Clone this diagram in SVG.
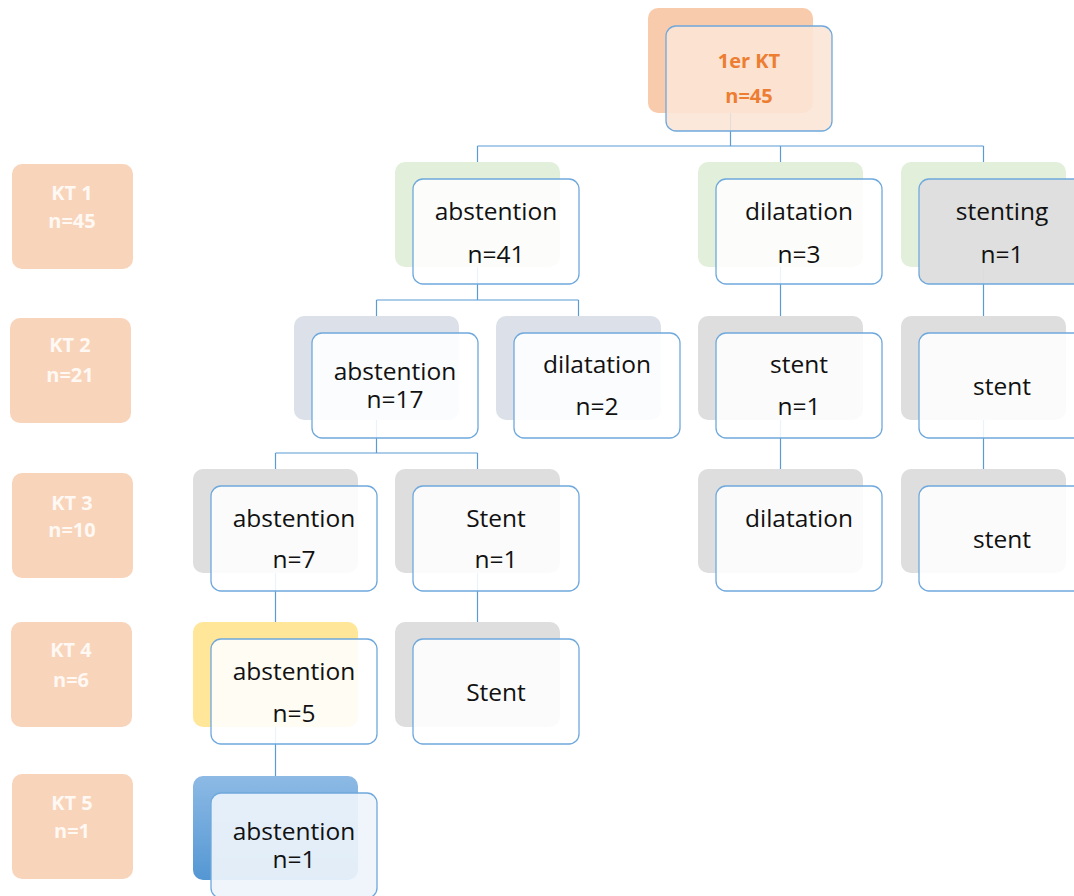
<svg xmlns="http://www.w3.org/2000/svg" width="1074" height="896" viewBox="0 0 1074 896">
<defs>
<linearGradient id="gBlue" x1="0" y1="0" x2="0" y2="1">
<stop offset="0" stop-color="#8DBAE5"/>
<stop offset="1" stop-color="#5497D3"/>
</linearGradient>
<style>
.lab{fill:#F8D4BB}
.labt{font-family:"Open Sans",sans-serif;font-weight:bold;font-size:20px;fill:#FFF8F3;text-anchor:middle}
.back{stroke:none}
.green{fill:#E2EFDA}
.bluegray{fill:#DCE1E9}
.gray{fill:#DEDEDE}
.yellow{fill:#FFE699}
.front{fill:#FFFFFF;fill-opacity:0.88;stroke:#6FA8DC;stroke-width:1.3}
.t{font-family:"Open Sans",sans-serif;font-size:24.5px;fill:#111111;text-anchor:middle}
.tt{font-family:"Open Sans",sans-serif;font-weight:bold;font-size:20px;fill:#ED7D31;text-anchor:middle}
.conn{fill:none;stroke:#5B9BD5;stroke-width:1.2}
</style>
</defs>
<rect width="1074" height="896" fill="#FFFFFF"/>

<g id="level-labels">
<g id="kt1"><rect class="lab" x="12" y="164" width="121" height="105" rx="10"/><text class="labt" x="72" y="200">KT 1</text><text class="labt" x="72" y="228">n=45</text></g>
<g id="kt2"><rect class="lab" x="10" y="318" width="121" height="105" rx="10"/><text class="labt" x="70" y="352">KT 2</text><text class="labt" x="70" y="382">n=21</text></g>
<g id="kt3"><rect class="lab" x="12" y="473" width="121" height="105" rx="10"/><text class="labt" x="72" y="510">KT 3</text><text class="labt" x="72" y="537">n=10</text></g>
<g id="kt4"><rect class="lab" x="11" y="622" width="121" height="105" rx="10"/><text class="labt" x="71" y="657">KT 4</text><text class="labt" x="71" y="687">n=6</text></g>
<g id="kt5"><rect class="lab" x="12" y="774" width="121" height="105" rx="10"/><text class="labt" x="72" y="810">KT 5</text><text class="labt" x="72" y="838">n=1</text></g>
</g>

<g id="connectors">
<path class="conn" d="M730.5,113 V146 M477.5,146 H983.5 M477.5,146 V162 M780.5,146 V162 M983.5,146 V162"/>
<path class="conn" d="M477.5,267 V300 M376.5,300 H578.5 M376.5,300 V316 M578.5,300 V316"/>
<path class="conn" d="M780.5,267 V316 M983.5,267 V316"/>
<path class="conn" d="M376.5,419 V453 M275.5,453 H477.5 M275.5,453 V469 M477.5,453 V469"/>
<path class="conn" d="M780.5,419 V469 M983.5,419 V469"/>
<path class="conn" d="M275.5,573 V622 M477.5,573 V622 M275.5,727 V776"/>
</g>

<g id="root">
<rect class="back" x="648" y="8" width="165" height="105" rx="10" fill="#F8CBAD"/>
<rect x="666" y="26" width="166" height="105" rx="10" fill="#FBE5D6" fill-opacity="0.88" stroke="#6FA8DC" stroke-width="1.3"/>
<text class="tt" x="749" y="68">1er KT</text>
<text class="tt" x="749" y="103">n=45</text>
</g>

<g id="n1a">
<rect class="back green" x="395" y="162" width="165" height="105" rx="10"/>
<rect class="front" x="413" y="179" width="166" height="105" rx="10"/>
<text class="t" x="496" y="220">abstention</text><text class="t" x="496" y="263">n=41</text>
</g>
<g id="n1b">
<rect class="back green" x="698" y="162" width="165" height="105" rx="10"/>
<rect class="front" x="716" y="179" width="166" height="105" rx="10"/>
<text class="t" x="799" y="220">dilatation</text><text class="t" x="799" y="263">n=3</text>
</g>
<g id="n1c">
<rect class="back green" x="901" y="162" width="165" height="105" rx="10"/>
<rect x="919" y="179" width="166" height="105" rx="10" fill="#DEDEDE" fill-opacity="0.97" stroke="#6FA8DC" stroke-width="1.3"/>
<text class="t" x="1002" y="220">stenting</text><text class="t" x="1002" y="263">n=1</text>
</g>

<g id="n2a">
<rect class="back bluegray" x="294" y="316" width="165" height="104" rx="10"/>
<rect class="front" x="312" y="333" width="166" height="105" rx="10"/>
<text class="t" x="395" y="380">abstention</text><text class="t" x="395" y="408">n=17</text>
</g>
<g id="n2b">
<rect class="back bluegray" x="496" y="316" width="165" height="104" rx="10"/>
<rect class="front" x="514" y="333" width="166" height="105" rx="10"/>
<text class="t" x="597" y="373">dilatation</text><text class="t" x="597" y="415">n=2</text>
</g>
<g id="n2c">
<rect class="back gray" x="698" y="316" width="165" height="104" rx="10"/>
<rect class="front" x="716" y="333" width="166" height="105" rx="10"/>
<text class="t" x="799" y="373">stent</text><text class="t" x="799" y="415">n=1</text>
</g>
<g id="n2d">
<rect class="back gray" x="901" y="316" width="165" height="104" rx="10"/>
<rect class="front" x="919" y="333" width="166" height="105" rx="10"/>
<text class="t" x="1002" y="395">stent</text>
</g>

<g id="n3a">
<rect class="back gray" x="193" y="469" width="165" height="104" rx="10"/>
<rect class="front" x="211" y="486" width="166" height="105" rx="10"/>
<text class="t" x="294" y="527">abstention</text><text class="t" x="294" y="568">n=7</text>
</g>
<g id="n3b">
<rect class="back gray" x="395" y="469" width="165" height="104" rx="10"/>
<rect class="front" x="413" y="486" width="166" height="105" rx="10"/>
<text class="t" x="496" y="527">Stent</text><text class="t" x="496" y="568">n=1</text>
</g>
<g id="n3c">
<rect class="back gray" x="698" y="469" width="165" height="104" rx="10"/>
<rect class="front" x="716" y="486" width="166" height="105" rx="10"/>
<text class="t" x="799" y="527">dilatation</text>
</g>
<g id="n3d">
<rect class="back gray" x="901" y="469" width="165" height="104" rx="10"/>
<rect class="front" x="919" y="486" width="166" height="105" rx="10"/>
<text class="t" x="1002" y="548">stent</text>
</g>

<g id="n4a">
<rect class="back yellow" x="193" y="622" width="165" height="105" rx="10"/>
<rect class="front" x="211" y="639" width="166" height="105" rx="10"/>
<text class="t" x="294" y="680">abstention</text><text class="t" x="294" y="722">n=5</text>
</g>
<g id="n4b">
<rect class="back gray" x="395" y="622" width="165" height="105" rx="10"/>
<rect class="front" x="413" y="639" width="166" height="105" rx="10"/>
<text class="t" x="496" y="701">Stent</text>
</g>

<g id="n5a">
<rect class="back" x="193" y="776" width="165" height="104" rx="10" fill="url(#gBlue)"/>
<rect x="211" y="793" width="166" height="105" rx="10" fill="#EEF4FB" fill-opacity="0.92" stroke="#6FA8DC" stroke-width="1.3"/>
<text class="t" x="294" y="840">abstention</text><text class="t" x="294" y="868">n=1</text>
</g>
</svg>
